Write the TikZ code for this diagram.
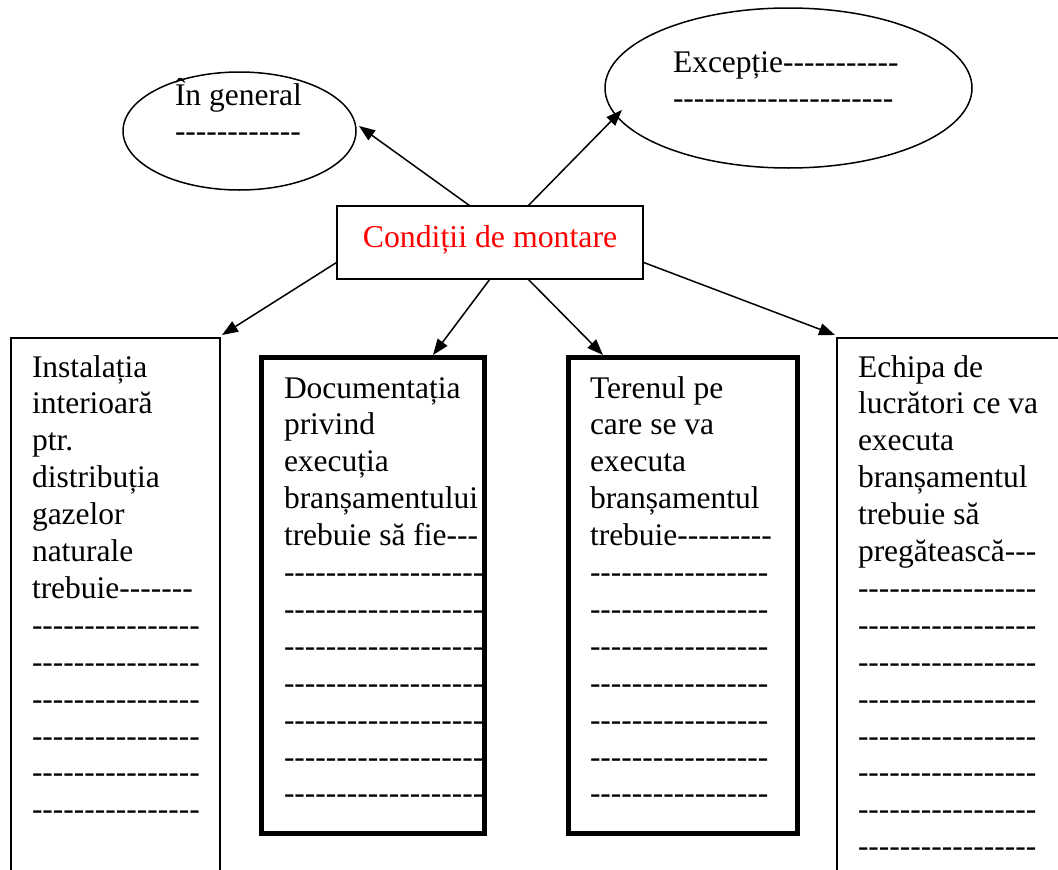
\documentclass[tikz,border=0pt]{standalone}
\usepackage{fontspec}
\setmainfont[Ligatures=TeXOff]{Liberation Serif}
\usetikzlibrary{arrows.meta,calc,shapes.geometric}

\begin{document}
\begin{tikzpicture}[x=1pt,y=-1pt,
  every node/.style={inner sep=0pt,outer sep=0pt},
  thinbox/.style={draw,line width=1.7pt,rectangle,anchor=north west},
  thickbox/.style={draw,line width=5pt,rectangle,anchor=north west},
  oval/.style={draw,ellipse,line width=1.5pt},
  link/.style={line width=1.5pt,-{Triangle[length=16pt,width=12pt]}},
  body/.style={anchor=base west,font=\rmfamily\fontsize{31.5}{36.9}\selectfont},
  title/.style={anchor=base,font=\rmfamily\fontsize{31.8}{36.9}\selectfont,text=red},
]
\useasboundingbox (0,0) rectangle (1058,870);
\clip (0,0) rectangle (1058,870);

% central node
\node[thinbox,minimum width=306pt,minimum height=73pt] (cond) at (337,206) {};
\node[title] (condt) at (490,247) {Condiții de montare};

% ovals at the top
\node[oval,minimum width=233pt,minimum height=118pt] (gen) at (239.5,131) {};
\node[oval,minimum width=367pt,minimum height=160pt] (exc) at (788.5,88) {};
\node[body] (gent) at (175,105) {\parbox[t]{400pt}{În general\\------------}};
\node[body] (exct) at (673,72) {\parbox[t]{400pt}{Excepție-----------\\---------------------}};

% four boxes below
\node[thinbox,minimum width=209pt,minimum height=600pt] (inst) at (11,338) {};
\node[thickbox,minimum width=223pt,minimum height=476pt] (doc) at (261.5,357.5) {};
\node[thickbox,minimum width=229pt,minimum height=476pt] (ter) at (568.5,357.5) {};
\node[thinbox,minimum width=300pt,minimum height=600pt] (ech) at (837,338) {};

\node[body] (instt) at (32,377) {\parbox[t]{400pt}{Instalația\\interioară\\ptr.\\distribuția\\gazelor\\naturale\\trebuie-------\\----------------\\----------------\\----------------\\----------------\\----------------\\----------------}};

\node[body] (doct) at (284,398) {\parbox[t]{400pt}{Documentația\\privind\\execuția\\branșamentului\\trebuie să fie---\\-------------------\\-------------------\\-------------------\\-------------------\\-------------------\\-------------------\\-------------------}};

\node[body] (tert) at (590,398) {\parbox[t]{400pt}{Terenul pe\\care se va\\executa\\branșamentul\\trebuie---------\\-----------------\\-----------------\\-----------------\\-----------------\\-----------------\\-----------------\\-----------------}};

\node[body] (echt) at (858,377) {\parbox[t]{400pt}{Echipa de\\lucrători ce va\\executa\\branșamentul\\trebuie să\\pregătească---\\-----------------\\-----------------\\-----------------\\-----------------\\-----------------\\-----------------\\-----------------\\-----------------}};

% connectors
\draw[link] ($(cond.north west)!0.435!(cond.north east)$) -- ([shift={(3,-5)}]gen.east);
\draw[link] ($(cond.north west)!0.624!(cond.north east)$) -- ([shift={(17,22)}]exc.west);
\draw[link] ($(cond.north west)!0.77!(cond.south west)$) -- ($(inst.north east)+(2,-3)$);
\draw[link] ($(cond.south west)!0.5!(cond.south east)$) -- ($(doc.north west)+(171.5,-2.5)$);
\draw[link] ($(cond.south west)!0.624!(cond.south east)$) -- ($(ter.north west)+(34.5,-2.5)$);
\draw[link] ($(cond.north east)!0.77!(cond.south east)$) -- ($(ech.north west)+(-2,-3)$);
\end{tikzpicture}
\end{document}
